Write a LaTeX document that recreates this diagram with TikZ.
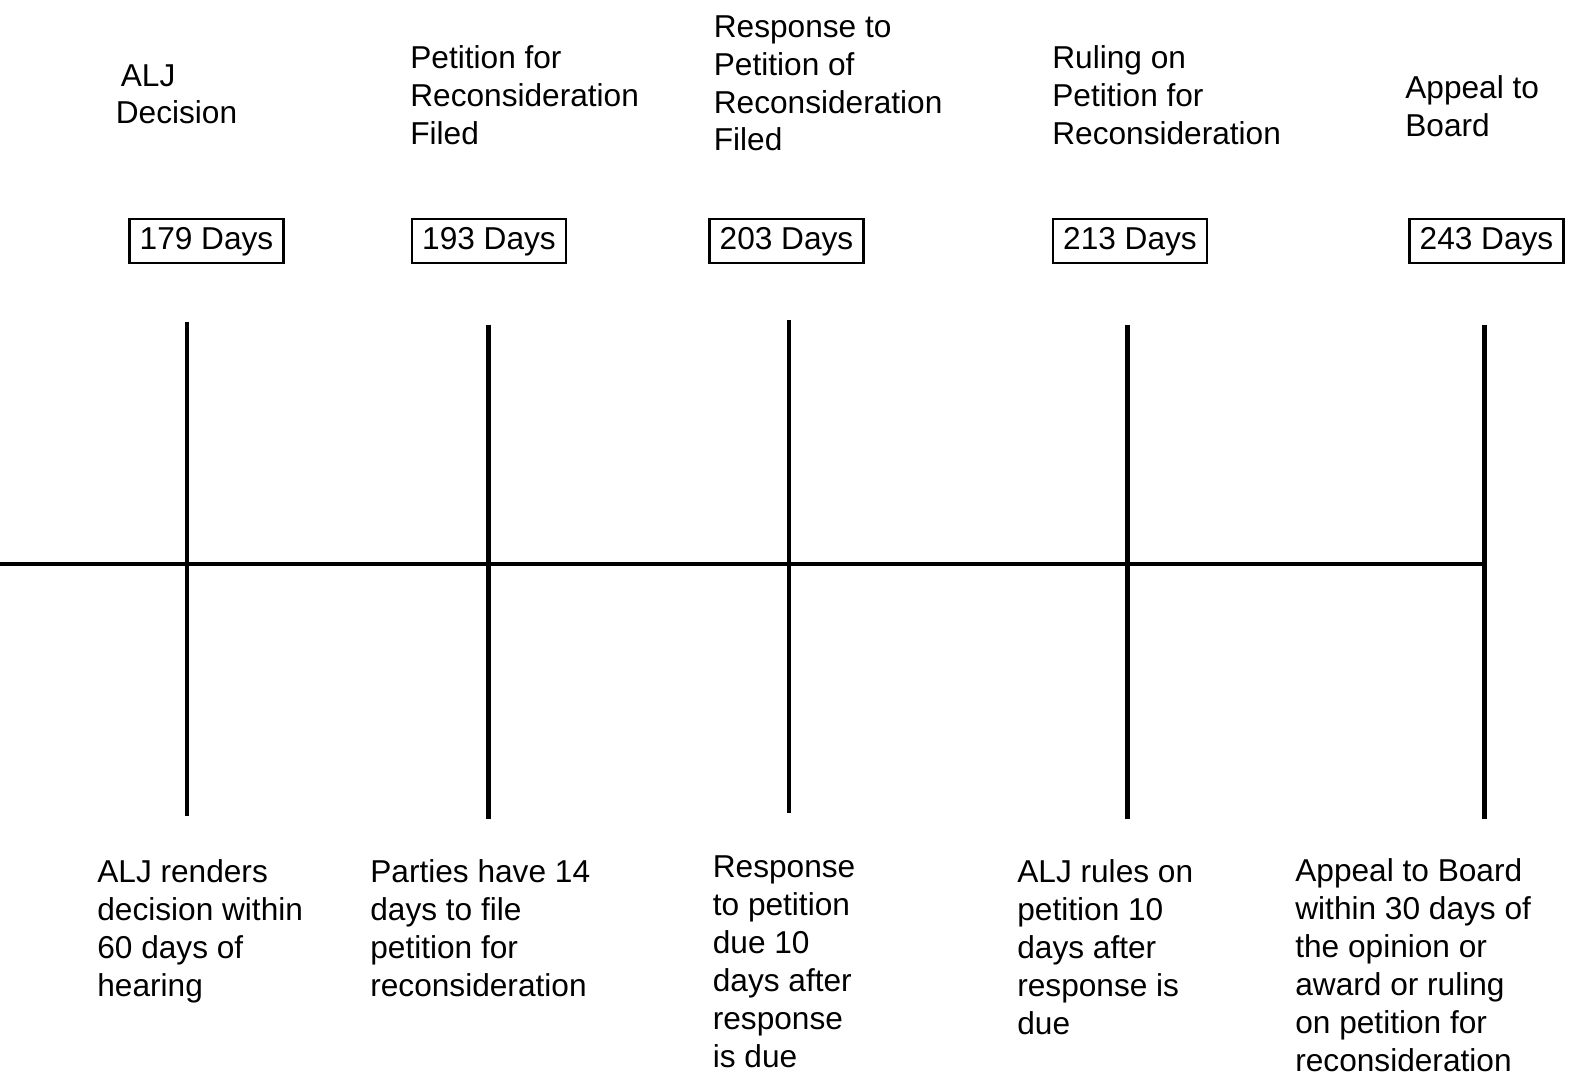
\documentclass[tikz,border=0pt]{standalone}
\usepackage{fontspec}
\setmainfont{Liberation Sans}
\usepackage{tikz}
\usetikzlibrary{calc}

\begin{document}
\begin{tikzpicture}[
  lbl/.style={anchor=base west, align=left, inner sep=0pt,
              font=\fontsize{18pt}{21.6pt}\selectfont},
  daybox/.style={draw, line width=1.4pt, minimum width=3.08cm, minimum height=0.88cm,
                 inner sep=0pt, text depth=0.12cm, font=\fontsize{18pt}{21.6pt}\selectfont},
  tick/.style={line width=2.3pt},
  axis/.style={line width=2.3pt}]
  \useasboundingbox (0,0) rectangle (31.52,-21.54);
  \node[lbl] (h1) at (2.31,-2.48) {\hspace{0.1cm}ALJ\\Decision};
  \node[lbl] (h2) at (8.20,-2.89) {Petition for\\Reconsideration\\Filed};
  \node[lbl] (h3) at (14.27,-3.02) {Response to\\Petition of\\Reconsideration\\Filed};
  \node[lbl] (h4) at (21.04,-2.89) {Ruling on\\Petition for\\Reconsideration};
  \node[lbl] (h5) at (28.10,-2.73) {Appeal to\\Board};
  \node[daybox] (d1) at (4.13,-4.82) {179 Days};
  \node[daybox] (d2) at (9.78,-4.82) {193 Days};
  \node[daybox] (d3) at (15.73,-4.82) {203 Days};
  \node[daybox] (d4) at (22.60,-4.82) {213 Days};
  \node[daybox] (d5) at (29.73,-4.82) {243 Days};
  \coordinate (top1) at (3.74,-6.43);  \coordinate (bot1) at (3.74,-16.32);
  \coordinate (top2) at (9.77,-6.49);  \coordinate (bot2) at (9.77,-16.38);
  \coordinate (top3) at (15.78,-6.39); \coordinate (bot3) at (15.78,-16.26);
  \coordinate (top4) at (22.55,-6.49); \coordinate (bot4) at (22.55,-16.38);
  \coordinate (top5) at (29.69,-6.49); \coordinate (bot5) at (29.69,-16.38);
  \coordinate (axstart) at (0,-11.28);
  \draw[axis] (axstart) -- (axstart -| bot5);
  \draw[tick] (top1) -- (bot1);
  \draw[tick] (top2) -- (bot2);
  \draw[tick] (top3) -- (bot3);
  \draw[tick] (top4) -- (bot4);
  \draw[tick] (top5) -- (bot5);
  \node[lbl] (n1) at (1.94,-19.92) {ALJ renders\\decision within\\60 days of\\hearing};
  \node[lbl] (n2) at (7.40,-19.92) {Parties have 14\\days to file\\petition for\\reconsideration};
  \node[lbl] (n3) at (14.25,-21.35) {Response\\to petition\\due 10\\days after\\response\\is due};
  \node[lbl] (n4) at (20.34,-20.68) {ALJ rules on\\petition 10\\days after\\response is\\due};
  \node[lbl] (n5) at (25.90,-21.43) {Appeal to Board\\within 30 days of\\the opinion or\\award or ruling\\on petition for\\reconsideration};
\end{tikzpicture}
\end{document}
